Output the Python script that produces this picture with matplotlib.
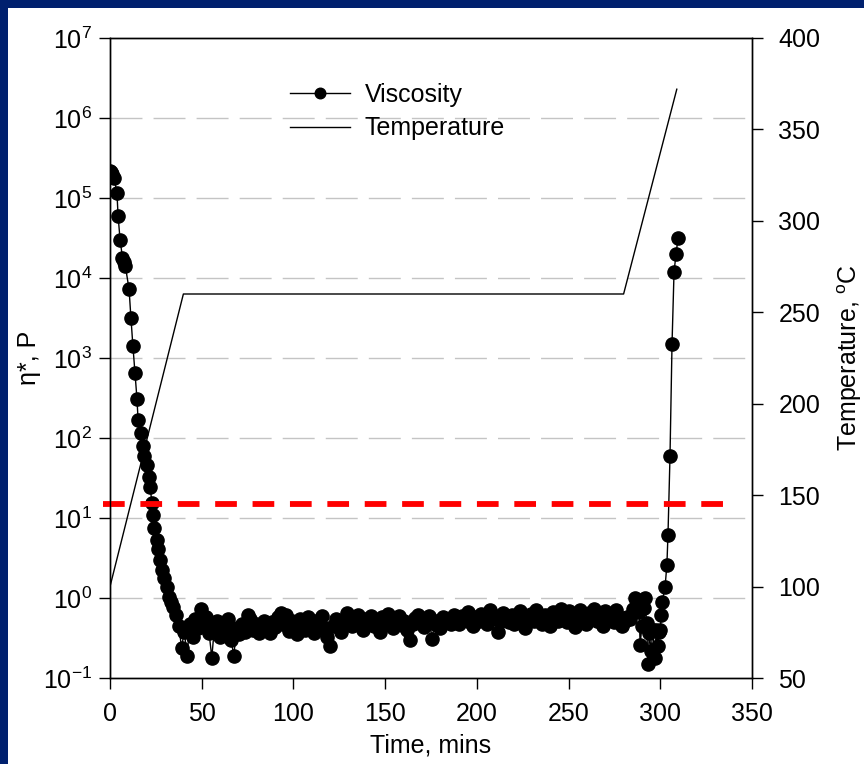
import numpy as np
import matplotlib
matplotlib.use("Agg")
import matplotlib.pyplot as plt
from matplotlib.patches import Rectangle
from matplotlib.ticker import MultipleLocator, NullLocator, LogLocator

plt.rcParams['font.family'] = ['Liberation Sans', 'DejaVu Sans']
plt.rcParams['mathtext.fontset'] = 'custom'
plt.rcParams['mathtext.rm'] = 'Liberation Sans'
plt.rcParams['axes.unicode_minus'] = False

# viscosity: fast drop on heating
descent_time = [0.0, 0.6, 1.2, 2.2, 3.8, 4.4, 5.5, 6.8, 7.8, 8.4,
                10.4, 11.4, 12.5, 13.6, 14.7, 15.3, 16.9, 18.0, 18.6, 20.2,
                21.3, 21.8, 22.9, 23.4, 24.0, 25.6, 26.2, 27.3, 28.3, 29.4,
                31.1, 32.2, 33.3, 34.3]
descent_visc = [2.2e5, 2.1e5, 2.0e5, 1.8e5, 1.15e5, 6.0e4, 3.0e4, 1.8e4, 1.6e4, 1.4e4,
                7.2e3, 3.2e3, 1.4e3, 6.5e2, 3.1e2, 1.7e2, 1.15e2, 80, 60, 46,
                33, 24.5, 15.5, 11, 7.5, 5.3, 4.1, 3.0, 2.25, 1.8,
                1.37, 1.03, 0.9, 0.77]

# viscosity: plateau during isothermal hold
plateau_time = [36.0, 37.5, 39.0, 40.5, 42.0, 43.5, 45.0, 46.5, 48.0, 49.5,
                51.0, 52.5, 54.0, 55.5, 57.0, 58.5, 60.0, 61.5, 63.0, 64.5,
                66.0, 67.5, 69.0, 70.5, 72.0, 73.5, 75.0, 76.5, 78.0, 79.5,
                81.0, 82.5, 84.0, 85.5, 87.0, 88.5, 90.0, 91.5, 93.0, 94.5,
                96.0, 97.5, 99.0, 100.5, 102.0, 103.5, 105.0, 106.5, 108.0, 109.5,
                111.0, 112.5, 114.0, 115.5, 117.0, 118.5, 120.0, 121.5, 123.0, 124.5,
                126.0, 127.5, 129.0, 130.5, 132.0, 133.5, 135.0, 136.5, 138.0, 139.5,
                141.0, 142.5, 144.0, 145.5, 147.0, 148.5, 150.0, 151.5, 153.0, 154.5,
                156.0, 157.5, 159.0, 160.5, 162.0, 163.5, 165.0, 166.5, 168.0, 169.5,
                171.0, 172.5, 174.0, 175.5, 177.0, 178.5, 180.0, 181.5, 183.0, 184.5,
                186.0, 187.5, 189.0, 190.5, 192.0, 193.5, 195.0, 196.5, 198.0, 199.5,
                201.0, 202.5, 204.0, 205.5, 207.0, 208.5, 210.0, 211.5, 213.0, 214.5,
                216.0, 217.5, 219.0, 220.5, 222.0, 223.5, 225.0, 226.5, 228.0, 229.5,
                231.0, 232.5, 234.0, 235.5, 237.0, 238.5, 240.0, 241.5, 243.0, 244.5,
                246.0, 247.5, 249.0, 250.5, 252.0, 253.5, 255.0, 256.5, 258.0, 259.5,
                261.0, 262.5, 264.0, 265.5, 267.0, 268.5, 270.0, 271.5, 273.0, 274.5,
                276.0, 277.5, 279.0, 280.5, 282.0]
plateau_visc = [0.62, 0.45, 0.24, 0.38, 0.19, 0.47, 0.33, 0.55, 0.42, 0.72,
                0.50, 0.58, 0.37, 0.18, 0.45, 0.52, 0.33, 0.48, 0.40, 0.55,
                0.30, 0.19, 0.42, 0.35, 0.47, 0.38, 0.62, 0.55, 0.40, 0.48,
                0.36, 0.45, 0.52, 0.41, 0.37, 0.50, 0.44, 0.58, 0.65, 0.47,
                0.62, 0.39, 0.52, 0.45, 0.35, 0.55, 0.48, 0.40, 0.58, 0.44,
                0.36, 0.52, 0.47, 0.60, 0.42, 0.33, 0.25, 0.45, 0.55, 0.48,
                0.38, 0.52, 0.65, 0.50, 0.45, 0.58, 0.62, 0.48, 0.40, 0.55,
                0.50, 0.60, 0.45, 0.52, 0.38, 0.58, 0.47, 0.63, 0.50, 0.42,
                0.55, 0.60, 0.46, 0.52, 0.40, 0.30, 0.48, 0.56, 0.62, 0.50,
                0.44, 0.55, 0.60, 0.31, 0.48, 0.52, 0.42, 0.58, 0.50, 0.55,
                0.47, 0.62, 0.53, 0.48, 0.60, 0.55, 0.66, 0.50, 0.45, 0.58,
                0.52, 0.63, 0.56, 0.48, 0.70, 0.55, 0.60, 0.38, 0.52, 0.65,
                0.58, 0.50, 0.62, 0.47, 0.55, 0.68, 0.60, 0.42, 0.55, 0.63,
                0.52, 0.70, 0.57, 0.48, 0.62, 0.55, 0.45, 0.66, 0.58, 0.52,
                0.72, 0.60, 0.50, 0.68, 0.56, 0.44, 0.62, 0.70, 0.55, 0.48,
                0.65, 0.58, 0.72, 0.52, 0.60, 0.45, 0.68, 0.56, 0.62, 0.50,
                0.70, 0.58, 0.45, 0.52, 0.58]

# viscosity: final ramp (curing)
final_time = [283.5, 285.0, 286.2, 287.5, 288.5, 289.0, 290.0, 291.0, 291.7, 292.5,
              293.3, 294.0, 295.0, 296.0, 297.0, 297.8, 298.5, 299.3, 300.0, 300.5,
              301.0, 302.6, 303.6, 304.2, 305.3, 306.4, 307.5, 308.6, 309.7]
final_visc = [0.55, 0.72, 1.0, 0.95, 0.67, 0.26, 0.45, 0.75, 1.0, 0.49,
              0.15, 0.36, 0.22, 0.40, 0.18, 0.40, 0.25, 0.38, 0.40, 0.61,
              0.89, 1.37, 2.6, 6.2, 60, 1.5e3, 1.2e4, 2.0e4, 3.2e4]

# temperature profile
temp_time = [0, 40, 280, 309]
temp_vals = [100, 260, 260, 372]

cutoff_temp = 145
cutoff_span = [-4, 334]

time = np.array(descent_time + plateau_time + final_time)
visc = np.array(descent_visc + plateau_visc + final_visc)

W, H = 864, 764
fig = plt.figure(figsize=(W / 100, H / 100), dpi=100, facecolor='#00206E')
fig.patches.append(Rectangle((7.5 / W, 0), 1, 1 - 7.5 / H, transform=fig.transFigure,
                             facecolor='white', edgecolor='none', zorder=-5))

ax = fig.add_axes([110 / W, 1 - 678 / H, 642 / W, 640 / H])
ax.set_facecolor('white')
ax2 = ax.twinx()

# grid
ax.set_yscale('log')
ax.set_ylim(0.1, 1e7)
ax.set_xlim(0, 350)
for k in range(0, 7):
    ax.axhline(10.0 ** k, color='#c4c4c4', lw=1.0, dashes=(23, 8), zorder=0)

ln1, = ax.plot(time, visc, '-', color='black', lw=1.0, marker='o', ms=9.5,
               mfc='black', mec='black', label='Viscosity', zorder=3)
ln2, = ax2.plot(temp_time, temp_vals, '-', color='black', lw=1.0, label='Temperature')
red, = ax2.plot(cutoff_span, [cutoff_temp, cutoff_temp], color='#ff0000', lw=4.2,
                solid_capstyle='butt', dash_capstyle='butt', clip_on=False)
red.set_dashes((3.72, 2.69))
ax2.set_ylim(50, 400)
ax2.yaxis.set_major_locator(MultipleLocator(50))

ax.xaxis.set_major_locator(MultipleLocator(50))
ax.yaxis.set_major_locator(LogLocator(base=10, numticks=20))
ax.yaxis.set_minor_locator(NullLocator())

ax.tick_params(axis='both', direction='out', length=8, width=1, labelsize=18, colors='black')
ax.tick_params(axis='x', pad=9)
ax.tick_params(axis='y', pad=5)
ax2.tick_params(axis='y', direction='out', length=8, width=1, labelsize=18, pad=11)
for a in (ax, ax2):
    for s in a.spines.values():
        s.set_color('black')
        s.set_linewidth(1.0)

ax.set_xlabel('Time, mins', fontsize=18, labelpad=6)
ax.set_ylabel('η*, P', fontsize=18, labelpad=1)
ax2.set_ylabel('Temperature, $^{\\rm o}$C', fontsize=18, labelpad=11)

leg = ax2.legend([ln1, ln2], ['Viscosity', 'Temperature'], loc='upper left',
                 bbox_to_anchor=(0.245, 0.965), frameon=False, fontsize=18,
                 handlelength=2.4, handletextpad=0.6, labelspacing=0.38, markerscale=0.8)

fig.savefig('out.png', dpi=100, facecolor=fig.get_facecolor())
